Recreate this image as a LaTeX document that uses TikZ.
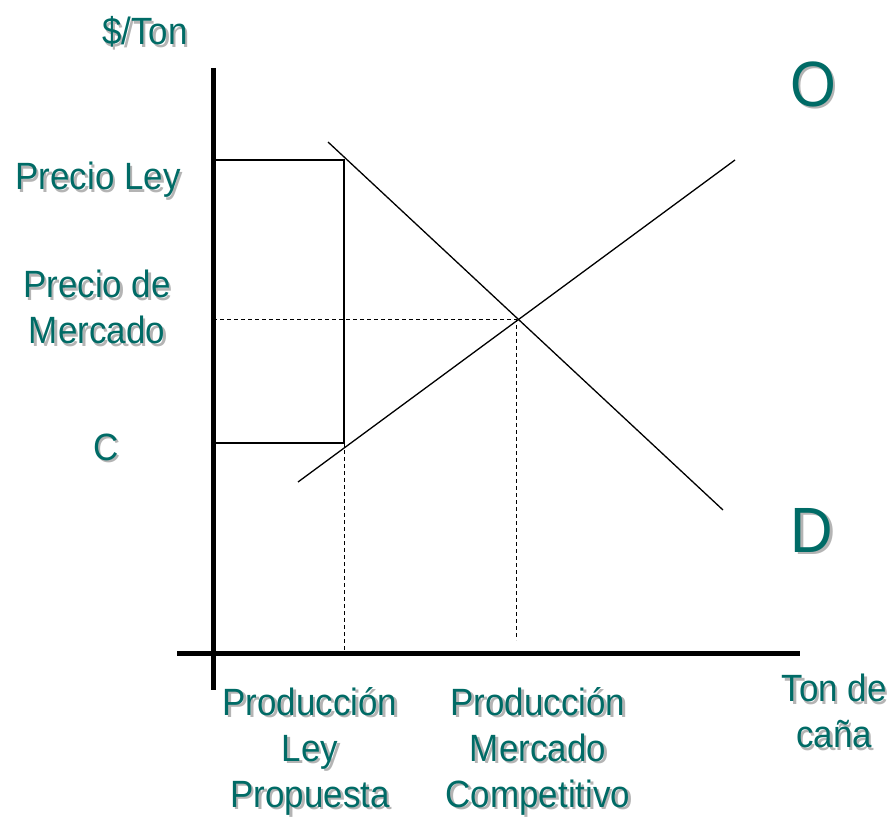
\documentclass[tikz,border=0pt]{standalone}
\usepackage{fontspec}
\setmainfont[FakeStretch=0.92]{Liberation Sans}
\usetikzlibrary{calc}
\definecolor{teal1}{HTML}{006B66}
\definecolor{shad}{HTML}{B4B4B4}
\tikzset{
  txt/.style={text=teal1, align=center, font=\fontsize{38}{46}\selectfont, inner sep=0pt},
  big/.style={text=teal1, align=center, font=\fontsize{64}{70}\selectfont, inner sep=0pt},
  shadowtxt/.style={text=shad},
  axisln/.style={line width=5pt},
  thinln/.style={line width=1.3pt},
  dashln/.style={line width=1pt, dash pattern=on 4pt off 3pt},
}
\newcommand\shlabel[4]{%
  \node[#1,shadowtxt] at ($(#2)+(2.5,2.5)$) {#4};
  \node[#1] (#3) at (#2) {#4};}
\begin{document}
\begin{tikzpicture}[x=1pt,y=-1pt]
\useasboundingbox (0,0) rectangle (892,818);
% axes
\coordinate (yt) at (213,68);
\coordinate (yb) at (213,690);
\coordinate (xl) at (177,653);
\coordinate (xr) at (800,653);
\draw[axisln] (yt) -- (yb);
\draw[axisln] (xl) -- (xr);
% rectangle
\coordinate (pl) at (213,160);
\coordinate (pr) at (344,160);
\coordinate (cl) at (213,443);
\coordinate (cr) at (344,443);
\draw[thinln] (pl) -- (pr) -- (cr) -- (cl);
\coordinate (q1) at (344,653);
\draw[dashln] (cr) -- (q1);
% market
\coordinate (ml) at (213,320);
\coordinate (eq) at (516,320);
\coordinate (q2) at (516,640);
\draw[dashln] (ml) -- (eq) -- (q2);
% demand and supply
\coordinate (d1) at (328,142);
\coordinate (d2) at (723,510);
\coordinate (s1) at (298,482);
\coordinate (s2) at (735,160);
\draw[thinln] (d1) -- (d2);
\draw[thinln] (s1) -- (s2);
% labels
\shlabel{txt}{145,32}{ton}{\$/Ton}
\shlabel{txt}{98,180}{pley}{Precio Ley}
\shlabel{txt}{97,307}{pmer}{Precio de\\Mercado}
\shlabel{txt}{106,447}{c}{C}
\shlabel{big}{813,84}{o}{O}
\shlabel{big}{812,530}{d}{D}
\shlabel{txt}{310,751}{prodley}{Producción\\Ley\\Propuesta}
\shlabel{txt}{538,751}{prodmer}{Producción\\Mercado\\Competitivo}
\shlabel{txt}{834,711}{tonc}{Ton de\\caña}
\end{tikzpicture}
\end{document}
